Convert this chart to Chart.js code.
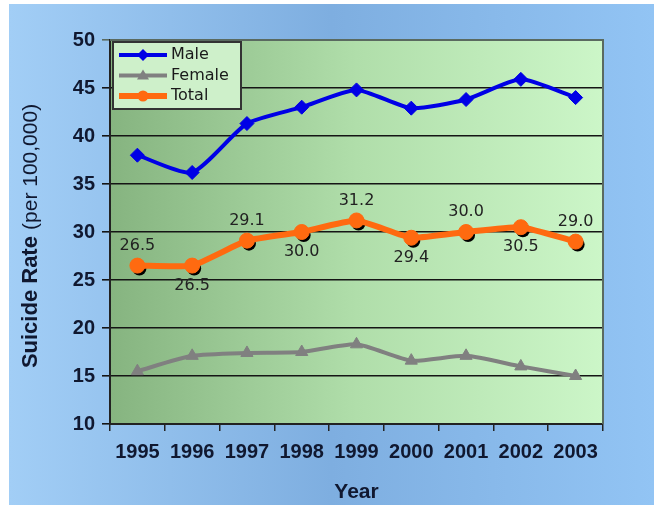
<!DOCTYPE html>
<html>
<head>
<meta charset="utf-8">
<script src="https://cdn.jsdelivr.net/npm/chart.js@4.4.1/dist/chart.umd.min.js"></script>
<style>
  html, body { margin: 0; padding: 0; background: #fff; }
  #wrap { width: 654px; height: 506px; }
</style>
</head>
<body>
<div id="wrap"><canvas id="chart" width="654" height="506"></canvas></div>
<script>
// Suicide rate per 100,000 population, 1995-2003
const years = ['1995', '1996', '1997', '1998', '1999', '2000', '2001', '2002', '2003'];
const maleRates = [38.0, 36.2, 41.3, 43.0, 44.8, 42.9, 43.8, 45.9, 44.0];
const femaleRates = [15.5, 17.1, 17.4, 17.5, 18.3, 16.6, 17.1, 16.0, 15.0];
const totalRates = [26.5, 26.5, 29.1, 30.0, 31.2, 29.4, 30.0, 30.5, 29.0];
const seriesNames = ['Male', 'Female', 'Total'];
const yMin = 10, yMax = 50, yStep = 5;

const fontFamily = '"Liberation Sans", Arial, sans-serif';
const tickFont = { family: fontFamily, size: 20, weight: 'bold' };
const axisTitleFont = { family: fontFamily, size: 21, weight: 'bold' };
const inkColor = '#101830';

// Page backdrop: blue panel and green plot area
const backdrop = {
  id: 'backdrop',
  beforeDraw(chart) {
    const { ctx, chartArea: a, width, height } = chart;
    ctx.save();
    ctx.fillStyle = '#ffffff';
    ctx.fillRect(0, 0, width, height);
    let g = ctx.createLinearGradient(9, 0, width, 0);
    g.addColorStop(0, 'rgb(162,206,246)');
    g.addColorStop(0.5, 'rgb(126,174,224)');
    g.addColorStop(1, 'rgb(146,196,244)');
    ctx.fillStyle = g;
    ctx.fillRect(9, 4, width - 9, height - 5);
    g = ctx.createLinearGradient(a.left, 0, a.right, 0);
    g.addColorStop(0, 'rgb(134,180,128)');
    g.addColorStop(0.5, 'rgb(176,222,170)');
    g.addColorStop(1, 'rgb(204,246,200)');
    ctx.fillStyle = g;
    ctx.fillRect(a.left, a.top, a.width, a.height);
    ctx.restore();
  },
  beforeDatasetsDraw(chart) {
    const { ctx, chartArea: a } = chart;
    ctx.save();
    ctx.strokeStyle = '#5a6a60';
    ctx.lineWidth = 2;
    ctx.beginPath();
    ctx.moveTo(a.left, a.top);
    ctx.lineTo(a.right, a.top);
    ctx.lineTo(a.right, a.bottom);
    ctx.stroke();
    ctx.restore();
  }
};

// Dark drop shadow beneath the Total markers
const markerShadow = {
  id: 'markerShadow',
  beforeDatasetDraw(chart, args) {
    if (args.index !== 2) return;
    const { ctx } = chart;
    ctx.save();
    ctx.fillStyle = '#000';
    args.meta.data.forEach(pt => {
      ctx.beginPath();
      ctx.arc(pt.x + 2, pt.y + 3, 7, 0, Math.PI * 2);
      ctx.fill();
    });
    ctx.restore();
  }
};

// Value labels on the Total series, alternating above and below
const totalLabels = {
  id: 'totalLabels',
  afterDatasetsDraw(chart) {
    const { ctx } = chart;
    const meta = chart.getDatasetMeta(2);
    ctx.save();
    ctx.font = '16px "DejaVu Sans", sans-serif';
    ctx.fillStyle = '#222';
    ctx.textAlign = 'center';
    ctx.textBaseline = 'middle';
    meta.data.forEach((pt, i) => {
      const dy = i % 2 === 0 ? -20 : 20;
      ctx.fillText(totalRates[i].toFixed(1), pt.x, pt.y + dy);
    });
    ctx.restore();
  }
};

// Boxed legend in the upper-left corner of the plot
const boxLegend = {
  id: 'boxLegend',
  afterDraw(chart) {
    const { ctx, chartArea: a } = chart;
    const x0 = a.left + 3, y0 = a.top + 2, w = 128, h = 67;
    ctx.save();
    ctx.fillStyle = 'rgb(206,240,202)';
    ctx.fillRect(x0, y0, w, h);
    ctx.strokeStyle = '#333';
    ctx.lineWidth = 2;
    ctx.strokeRect(x0, y0, w, h);
    ctx.font = '16px "DejaVu Sans", sans-serif';
    ctx.textBaseline = 'middle';
    chart.data.datasets.forEach((ds, i) => {
      const cy = y0 + 13 + i * 20.5;
      ctx.strokeStyle = ds.borderColor;
      ctx.lineWidth = ds.borderWidth;
      ctx.beginPath();
      ctx.moveTo(x0 + 6, cy);
      ctx.lineTo(x0 + 54, cy);
      ctx.stroke();
      ctx.fillStyle = ds.pointBackgroundColor;
      const cx = x0 + 30;
      ctx.beginPath();
      if (ds.pointStyle === 'rectRot') {
        ctx.moveTo(cx, cy - 6); ctx.lineTo(cx + 6, cy); ctx.lineTo(cx, cy + 6); ctx.lineTo(cx - 6, cy);
      } else if (ds.pointStyle === 'triangle') {
        ctx.moveTo(cx, cy - 6); ctx.lineTo(cx + 6, cy + 4); ctx.lineTo(cx - 6, cy + 4);
      } else {
        ctx.arc(cx, cy, 5.5, 0, Math.PI * 2);
      }
      ctx.closePath();
      ctx.fill();
      ctx.fillStyle = '#1a1a1a';
      ctx.fillText(ds.label, x0 + 58, cy);
    });
    ctx.restore();
  }
};

// Vertical axis title with a bold lead and a regular unit note
const yAxisTitle = {
  id: 'yAxisTitle',
  afterDraw(chart) {
    const { ctx, chartArea: a } = chart;
    const lead = 'Suicide Rate ';
    const unit = '(per 100,000)';
    ctx.save();
    ctx.translate(31, (a.top + a.bottom) / 2 + 4);
    ctx.rotate(-Math.PI / 2);
    ctx.textBaseline = 'middle';
    ctx.textAlign = 'left';
    const fBold = 'bold 22px ' + fontFamily;
    const fReg = '21px ' + fontFamily;
    ctx.font = fBold;
    const w1 = ctx.measureText(lead).width;
    ctx.font = fReg;
    const w2 = ctx.measureText(unit).width;
    let x = -(w1 + w2) / 2;
    ctx.font = fBold;
    ctx.fillStyle = inkColor;
    ctx.fillText(lead, x, 0);
    ctx.font = fReg;
    ctx.fillText(unit, x + w1, 0);
    ctx.restore();
  }
};

new Chart(document.getElementById('chart'), {
  type: 'line',
  data: {
    labels: years,
    datasets: [
      {
        label: seriesNames[0], data: maleRates,
        borderColor: 'rgb(0,0,230)', backgroundColor: 'rgb(0,0,230)',
        pointBackgroundColor: 'rgb(0,0,230)', pointBorderColor: 'rgb(0,0,230)',
        borderWidth: 4, pointStyle: 'rectRot', pointRadius: 7, pointBorderWidth: 1,
        tension: 0.2, order: 3
      },
      {
        label: seriesNames[1], data: femaleRates,
        borderColor: 'rgb(128,128,128)', backgroundColor: 'rgb(128,128,128)',
        pointBackgroundColor: 'rgb(128,128,128)', pointBorderColor: 'rgb(128,128,128)',
        borderWidth: 4, pointStyle: 'triangle', pointRadius: 7, pointBorderWidth: 1,
        tension: 0.2, order: 2
      },
      {
        label: seriesNames[2], data: totalRates,
        borderColor: 'rgb(255,106,16)', backgroundColor: 'rgb(255,106,16)',
        pointBackgroundColor: 'rgb(255,106,16)', pointBorderColor: 'rgb(255,106,16)',
        borderWidth: 6, pointStyle: 'circle', pointRadius: 7.5, pointBorderWidth: 1,
        tension: 0.15, order: 1
      }
    ]
  },
  options: {
    responsive: false,
    animation: false,
    devicePixelRatio: 1,
    layout: { padding: { top: 40, right: 51, left: 0, bottom: 0 } },
    plugins: { legend: { display: false }, tooltip: { enabled: false } },
    scales: {
      x: {
        offset: true,
        grid: { offset: true, drawOnChartArea: false, tickLength: 7, color: '#222', lineWidth: 1.5 },
        border: { color: '#222', width: 2 },
        ticks: { font: tickFont, color: inkColor, padding: 9, maxRotation: 0, autoSkip: false },
        title: { display: true, text: 'Year', font: axisTitleFont, color: inkColor, padding: { top: 0, bottom: 1 } },
        afterFit(scale) { scale.height = 82; }
      },
      y: {
        min: yMin, max: yMax,
        grid: {
          tickLength: 8, lineWidth: 1.6,
          color: c => (c.tick && c.tick.value === yMax ? '#5a6a60' : '#151515')
        },
        border: { color: '#222', width: 2 },
        ticks: { stepSize: yStep, font: tickFont, color: inkColor, padding: 7 },
        afterFit(scale) { scale.width = 110; }
      }
    }
  },
  plugins: [backdrop, markerShadow, totalLabels, boxLegend, yAxisTitle]
});
</script>
</body>
</html>
